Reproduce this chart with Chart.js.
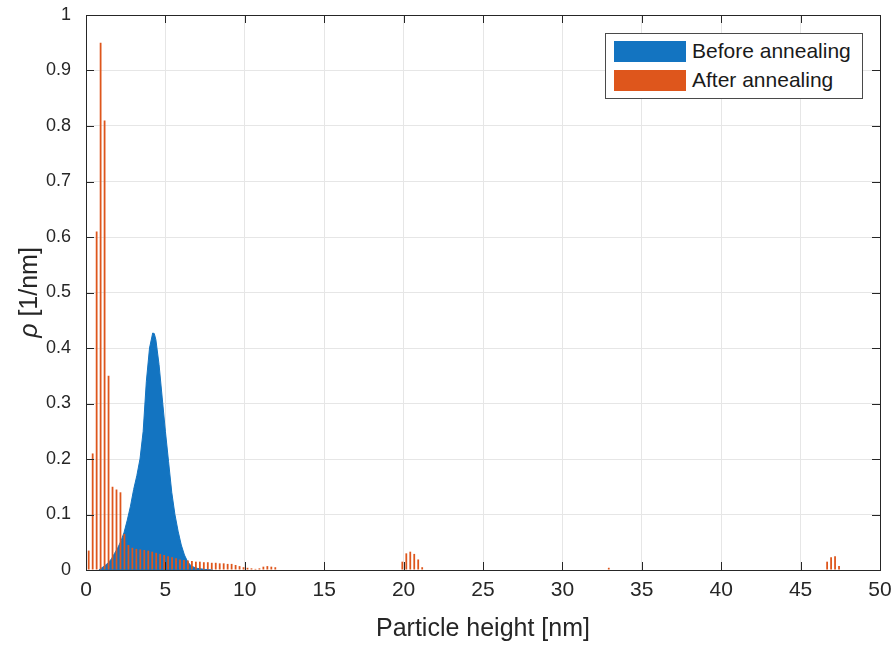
<!DOCTYPE html>
<html>
<head>
<meta charset="utf-8">
<script src="https://cdn.jsdelivr.net/npm/chart.js@4"></script>
<style>
  body { margin: 0; background: #fff; }
  #wrap { position: relative; width: 893px; height: 648px; }
  #chart { position: absolute; left: 0; top: 0; }
  #legend {
    position: absolute; left: 605px; top: 33px; width: 256px; height: 64px;
    border: 1px solid #4a4a4a; background: #fff;
    font-family: "Liberation Sans", Arial, sans-serif; font-size: 21px; color: #1a1a1a;
  }
  .item { position: absolute; left: 8px; height: 22px; display: flex; align-items: center; }
  .swatch { width: 72px; height: 21px; margin-right: 6px; }
</style>
</head>
<body>
<div id="wrap">
  <canvas id="chart" width="893" height="648"></canvas>
  <div id="legend"></div>
</div>
<script>
// Before annealing: filled histogram (nm, 1/nm)
const beforeX = [0.8, 1.0, 1.2, 1.4, 1.6, 1.8, 2.0, 2.2, 2.4, 2.6, 2.8, 3.0, 3.2, 3.4, 3.6, 3.8, 4.0, 4.2, 4.3,
                 4.4, 4.6, 4.8, 5.0, 5.2, 5.4, 5.6, 5.8, 6.0, 6.2, 6.4, 6.6, 6.8, 7.0, 7.5, 8.0];
const beforeY = [0, 0.004, 0.008, 0.013, 0.02, 0.03, 0.04, 0.052, 0.068, 0.09, 0.115, 0.145, 0.17, 0.2, 0.25, 0.34, 0.4, 0.427, 0.426,
                 0.415, 0.37, 0.31, 0.25, 0.195, 0.14, 0.1, 0.07, 0.045, 0.027, 0.015, 0.008, 0.005, 0.003, 0.001, 0];

// After annealing: narrow histogram bars
const afterX = [0.17, 0.42, 0.67, 0.92, 1.17, 1.42, 1.67, 1.92, 2.17, 2.42, 2.67, 2.92, 3.17, 3.42, 3.67, 3.92,
                4.17, 4.42, 4.67, 4.92, 5.17, 5.42, 5.67, 5.92, 6.17, 6.42, 6.67, 6.92, 7.17, 7.42, 7.67, 7.92,
                8.17, 8.42, 8.67, 8.92, 9.17, 9.42, 9.67, 9.92, 10.17, 10.42, 10.67, 10.92, 11.17, 11.42, 11.67, 11.92,
                19.92, 20.17, 20.42, 20.67, 20.92, 21.17, 32.92, 46.67, 46.92, 47.17, 47.42];
const afterY = [0.035, 0.21, 0.61, 0.95, 0.81, 0.35, 0.15, 0.145, 0.14, 0.065, 0.045, 0.04, 0.038, 0.037, 0.036, 0.035,
                0.033, 0.031, 0.029, 0.027, 0.025, 0.023, 0.021, 0.019, 0.018, 0.017, 0.016, 0.015, 0.015, 0.014, 0.014, 0.013,
                0.013, 0.012, 0.012, 0.011, 0.011, 0.009, 0.007, 0.005, 0.004, 0.003, 0.002, 0.003, 0.006, 0.007, 0.006, 0.005,
                0.015, 0.03, 0.033, 0.029, 0.019, 0.005, 0.004, 0.015, 0.023, 0.025, 0.007];

const seriesLabels = ['Before annealing', 'After annealing'];
const seriesColors = ['#1374c1', '#de561c'];
const xTitle = 'Particle height [nm]';
const yTitleSymbol = 'ρ';
const yTitleUnit = ' [1/nm]';

const textColor = '#262626';
const font = '"Liberation Sans", Arial, sans-serif';

// box, inward ticks and axis titles
const framePlugin = {
    id: 'frame',
    afterDraw(chart) {
        const { ctx, chartArea: a, scales } = chart;
        const x = scales.x, y = scales.y;
        ctx.save();
        ctx.strokeStyle = textColor;
        ctx.lineWidth = 1;
        ctx.strokeRect(a.left + 0.5, a.top + 0.5, a.right - a.left, a.bottom - a.top);
        ctx.beginPath();
        x.ticks.forEach(t => {
            const px = Math.round(x.getPixelForValue(t.value)) + 0.5;
            ctx.moveTo(px, a.bottom); ctx.lineTo(px, a.bottom - 8);
            ctx.moveTo(px, a.top); ctx.lineTo(px, a.top + 8);
        });
        y.ticks.forEach(t => {
            const py = Math.round(y.getPixelForValue(t.value)) + 0.5;
            ctx.moveTo(a.left, py); ctx.lineTo(a.left + 8, py);
            ctx.moveTo(a.right, py); ctx.lineTo(a.right - 8, py);
        });
        ctx.stroke();

        ctx.fillStyle = textColor;
        ctx.textBaseline = 'middle';
        ctx.textAlign = 'center';
        ctx.font = '25px ' + font;
        ctx.fillText(xTitle, (a.left + a.right) / 2, 629);

        ctx.translate(30, (a.top + a.bottom) / 2);
        ctx.rotate(-Math.PI / 2);
        const symFont = 'italic 25px ' + font;
        const unitFont = '25px ' + font;
        ctx.font = symFont;
        const w1 = ctx.measureText(yTitleSymbol).width;
        ctx.font = unitFont;
        const w2 = ctx.measureText(yTitleUnit).width;
        ctx.textAlign = 'left';
        ctx.font = symFont;
        ctx.fillText(yTitleSymbol, -(w1 + w2) / 2, 0);
        ctx.font = unitFont;
        ctx.fillText(yTitleUnit, -(w1 + w2) / 2 + w1, 0);
        ctx.restore();
    }
};

new Chart(document.getElementById('chart'), {
    type: 'bar',
    data: {
        datasets: [{
            type: 'line',
            label: seriesLabels[0],
            data: beforeX.map((v, i) => ({ x: v, y: beforeY[i] })),
            borderColor: seriesColors[0],
            backgroundColor: seriesColors[0],
            borderWidth: 1,
            pointRadius: 0,
            fill: 'origin',
            tension: 0,
            order: 1
        }, {
            type: 'bar',
            label: seriesLabels[1],
            data: afterX.map((v, i) => ({ x: v, y: afterY[i] })),
            backgroundColor: seriesColors[1],
            barPercentage: 0.45,
            categoryPercentage: 1,
            order: 0
        }]
    },
    options: {
        responsive: false,
        animation: false,
        layout: { padding: { top: 15, right: 13, left: 0, bottom: 0 } },
        plugins: { legend: { display: false }, tooltip: { enabled: false } },
        scales: {
            x: {
                type: 'linear',
                min: 0, max: 50,
                offset: false,
                afterFit: s => { s.height = 78; s.paddingLeft = 0; s.paddingRight = 0; },
                border: { display: false },
                grid: { color: '#e6e6e6', drawTicks: false, offset: false },
                ticks: { stepSize: 5, padding: 8, color: textColor, font: { family: font, size: 21 }, maxRotation: 0 }
            },
            y: {
                min: 0, max: 1,
                afterFit: s => { s.width = 86; s.paddingTop = 0; s.paddingBottom = 0; },
                border: { display: false },
                grid: { color: '#e6e6e6', drawTicks: false },
                ticks: {
                    stepSize: 0.1, padding: 15, color: textColor, font: { family: font, size: 18 },
                    callback: v => String(+v.toFixed(1))
                }
            }
        }
    },
    plugins: [framePlugin]
});

// legend built from the series labels
const legend = document.getElementById('legend');
seriesLabels.forEach((lab, i) => {
    const item = document.createElement('div');
    item.className = 'item';
    item.style.top = (6 + i * 29) + 'px';
    const sw = document.createElement('span');
    sw.className = 'swatch';
    sw.style.background = seriesColors[i];
    const tx = document.createElement('span');
    tx.textContent = lab;
    item.appendChild(sw);
    item.appendChild(tx);
    legend.appendChild(item);
});
</script>
</body>
</html>
